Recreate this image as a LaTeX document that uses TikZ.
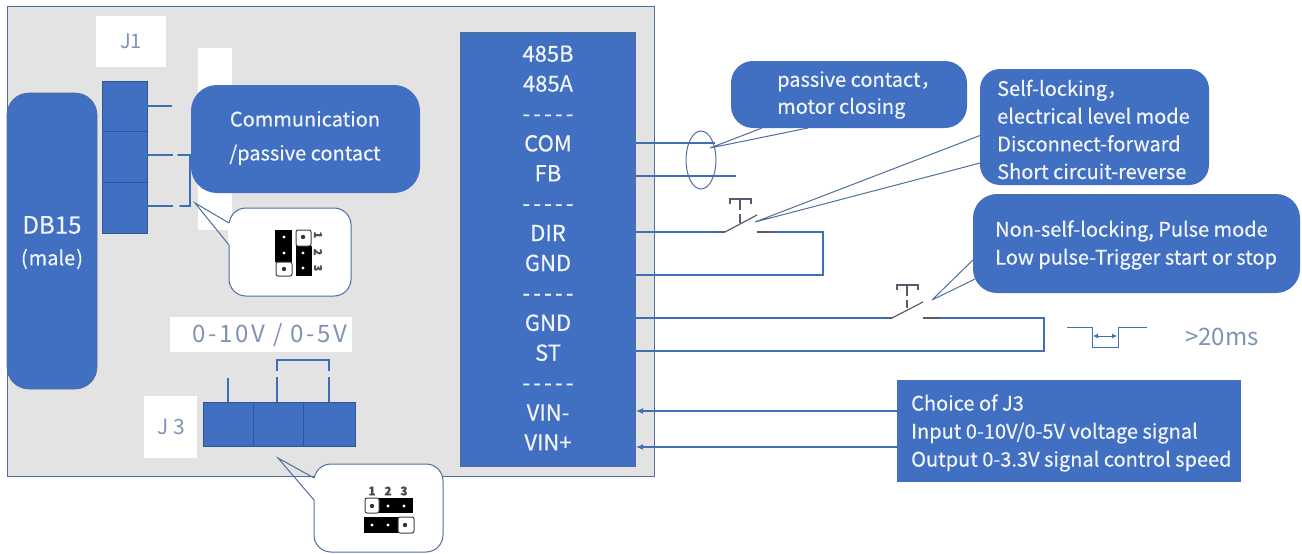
\documentclass[tikz,border=0pt]{standalone}
\usepackage{fontspec}
\setmainfont{Noto Sans CJK SC}[RawFeature={embolden=0.35}]
\newfontfamily\lightf{Noto Sans CJK SC}
\usetikzlibrary{arrows.meta,shapes.geometric}
\definecolor{bluef}{HTML}{4170C2}
\definecolor{wirec}{HTML}{3F6DB8}
\definecolor{edgec}{HTML}{4F6E9E}
\definecolor{divc}{HTML}{2F5597}
\definecolor{boardc}{HTML}{E3E3E3}
\definecolor{labelc}{HTML}{7F93B5}
\definecolor{swc}{HTML}{5A5A6A}
\definecolor{txtc}{HTML}{F2F6FC}
\tikzset{
  blue box/.style={fill=bluef,draw=divc,line width=0.9pt},
  white box/.style={fill=white,draw=none},
  wire/.style={draw=wirec,line width=1.6pt},
  lead/.style={draw=edgec,line width=1pt},
  label txt/.style={text=txtc,align=left,anchor=west,inner sep=0pt},
  swgrey/.style={draw=swc,line width=1.2pt},
  sig arrow/.style={draw=wirec,line width=1.1pt,-{Latex[length=7pt,width=6pt]}},
}
% \bx{name}{options}{x1}{y1}{x2}{y2}
\newcommand{\bx}[6]{\node[anchor=north west,inner sep=0pt,outer sep=0pt,#2,minimum width=(#5-#3)*1pt,minimum height=(#6-#4)*1pt] (#1) at (#3,#4) {};}
\newcommand{\dsh}{{-}\kern3.2pt{-}\kern3.2pt{-}\kern3.2pt{-}\kern3.2pt{-}}
\begin{document}
\begin{tikzpicture}[x=1pt,y=-1pt]
\useasboundingbox (0,0) rectangle (1302,554);
% board
\bx{board}{fill=boardc,draw=edgec,line width=0.9pt}{7}{6}{654}{476}
\bx{jonebg}{white box}{96}{16}{166}{67}
\bx{strip}{white box}{198}{48}{232}{230}
\bx{db}{fill=bluef,draw=edgec,line width=0.7pt,rounded corners=22pt}{7}{93}{97}{389}
\node[text=txtc,inner sep=0pt,font=\fontsize{24}{24}\selectfont] (dbt) at (52,225) {DB15};
\node[text=txtc,inner sep=0pt,font=\fontsize{20}{20}\selectfont] (dbm) at (52,259) {(\kern1pt male\kern1pt)};
\node[text=labelc,inner sep=0pt,font=\lightf\fontsize{20}{20}\selectfont] (jonet) at (131,41) {J1};
% J1
\bx{ja}{blue box}{102}{81}{147}{131}
\bx{jb}{blue box}{102}{131}{147}{182}
\bx{jc}{blue box}{102}{182}{147}{233}
\coordinate (a1) at (172,106);
\coordinate (b0) at (147,155);\coordinate (b1) at (173,155);\coordinate (b2) at (178,155);\coordinate (b3) at (190,155);
\coordinate (c0) at (147,206);\coordinate (c1) at (173,206);\coordinate (c2) at (180,206);\coordinate (c3) at (190,206);
\draw[wire] (147,106) -- (a1);
\draw[wire] (b0) -- (b1);
\draw[wire] (c0) -- (c1);
\draw[wire,line cap=round] (b2) -- (b3) -- (c3) -- (c2);
\bx{comm}{fill=bluef,draw=none,rounded corners=26pt}{191}{85}{420}{193}
\node[text=txtc,inner sep=0pt,align=center,font=\fontsize{20}{34}\selectfont] (commt) at (305,138) {Communication\\/passive contact};
% J1 callout
\bx{cone}{fill=white,draw=edgec,line width=1pt,rounded corners=17pt}{229}{208}{351}{296}
\coordinate (conep) at (195,203);\coordinate (conea) at (229,223);\coordinate (coneb) at (229,245);
\draw[white,line width=2pt] (conea) -- (coneb);
\draw[lead] (conea) -- (conep) -- (coneb);
% jumper J1
\fill[black] (275,230) rectangle (292,262);
\fill[black] (296,246) rectangle (312,276);
\draw[black!75,line width=1pt,rounded corners=2pt] (276,262) rectangle (292,276);
\draw[black!75,line width=1pt,rounded corners=2pt] (296,230) rectangle (311,246);
\foreach \p in {(284,237),(284,253),(303,253),(303,268)} \fill[white] \p circle (1.6);
\foreach \p in {(284,269),(303,237)} {\fill[black!80] \p circle (2.2);}
\node[rotate=-90,inner sep=0pt,font=\bfseries\fontsize{11}{11}\selectfont,text=black!70] (jn1) at (318,235) {1};
\node[rotate=-90,inner sep=0pt,font=\bfseries\fontsize{11}{11}\selectfont,text=black!70] (jn2) at (318,252) {2};
\node[rotate=-90,inner sep=0pt,font=\bfseries\fontsize{11}{11}\selectfont,text=black!70] (jn3) at (318,268) {3};
% 0-10V
\bx{vbg}{white box}{170}{317}{352}{352}
\node[text=labelc,inner sep=0pt,font=\lightf\addfontfeature{LetterSpace=11}\fontsize{24}{24}\selectfont] (vt) at (270,335) {0-10V / 0-5V};
\bx{jthbg}{white box}{144}{396}{197}{458}
\node[text=labelc,inner sep=0pt,font=\lightf\fontsize{21}{21}\selectfont] (jtht) at (171,427) {J 3};
\bx{ka}{blue box}{203}{402}{253}{446}
\bx{kb}{blue box}{253}{402}{303}{446}
\bx{kc}{blue box}{303}{402}{355}{446}
\coordinate (ka1) at (228,378);
\coordinate (kb0) at (277,402);\coordinate (kb1) at (277,377);\coordinate (kb2) at (277,371);\coordinate (kb3) at (277,360);
\coordinate (kc0) at (329,402);\coordinate (kc1) at (329,377);\coordinate (kc2) at (329,371);\coordinate (kc3) at (329,360);
\draw[wire] (228,402) -- (ka1);
\draw[wire] (kb0) -- (kb1);
\draw[wire] (kc0) -- (kc1);
\draw[wire] (kb2) -- (kb3) -- (kc3) -- (kc2);
% J3 callout
\bx{cth}{fill=white,draw=edgec,line width=1pt,rounded corners=17pt}{314}{464}{443}{552}
\coordinate (cthp) at (278,458);\coordinate (ctha) at (314,478);\coordinate (cthb) at (314,500);
\draw[white,line width=2pt] (ctha) -- (cthb);
\draw[lead] (ctha) -- (cthp) -- (cthb);
% jumper J3
\fill[black] (379,498) rectangle (413,513);
\fill[black] (364,517) rectangle (398,533);
\draw[black!75,line width=1pt,rounded corners=2pt] (365,498) rectangle (379,513);
\draw[black!75,line width=1pt,rounded corners=2pt] (398,517) rectangle (414,533);
\foreach \p in {(388,506),(404,506),(372,525),(388,525)} \fill[white] \p circle (1.6);
\foreach \p in {(372,506),(405,525)} {\fill[black!80] \p circle (2.2);}
\node[inner sep=0pt,font=\bfseries\fontsize{12}{12}\selectfont,text=black!70] (kn1) at (372,491) {1};
\node[inner sep=0pt,font=\bfseries\fontsize{12}{12}\selectfont,text=black!70] (kn2) at (388,491) {2};
\node[inner sep=0pt,font=\bfseries\fontsize{12}{12}\selectfont,text=black!70] (kn3) at (404,491) {3};
% terminal block
\bx{term}{fill=bluef,draw=edgec,line width=0.5pt}{460}{32}{635.5}{466}
\node[text=txtc,inner sep=0pt,align=center,font=\fontsize{22}{29.9}\selectfont] (termt) at (548,248) {485B\\485A\\\dsh\\COM\\FB\\\dsh\\DIR\\GND\\\dsh\\GND\\ST\\\dsh\\VIN-\\VIN+};
% COM/FB
\coordinate (com) at (636,143);\coordinate (come) at (715,143);
\coordinate (fb) at (636,176);\coordinate (fbe) at (736,176);
\draw[wire] (com) -- (come);
\draw[wire] (fb) -- (fbe);
\node[draw=edgec,line width=1pt,ellipse,minimum width=30pt,minimum height=58pt,inner sep=0pt] (ell) at (701,160) {};
\coordinate (ptip) at (710,148);
\draw[lead] (762,128) -- (ptip) -- (808,128);
\bx{pass}{fill=bluef,draw=none,rounded corners=22pt}{731}{61}{967}{128}
\node[label txt,font=\fontsize{20}{27}\selectfont] (passt) at (777,95) {passive contact，\\motor closing};
% switch 1
\coordinate (dirend) at (725,232);\coordinate (sone) at (757,215);
\coordinate (sonea) at (757,232);\coordinate (soneb) at (774,232);\coordinate (sonec) at (823,232);\coordinate (soned) at (823,275);\coordinate (gnda) at (636,275);
\draw[wire] (636,232) -- (dirend);
\draw[swgrey] (718,232) -- (dirend) -- (sone);
\draw[wire,line join=miter] (soneb) -- (sonec) -- (soned) -- (gnda);
\draw[swgrey] (sonea) -- (soneb);
\draw[swgrey] (730,204) -- (730,199) -- (751,199) -- (751,204);
\draw[swgrey] (740,199) -- (740,210) (740,214) -- (740,223);
\coordinate (stip) at (755,222);
\draw[lead] (stip) -- (984,134) (stip) -- (984,162);
\bx{self}{fill=bluef,draw=none,rounded corners=20pt}{980}{69}{1209}{185}
\node[label txt,font=\fontsize{20}{27.7}\selectfont] (selft) at (997,129.5) {Self-locking，\\electrical level mode\\Disconnect-forward\\Short circuit-reverse};
% switch 2
\coordinate (gendb) at (892,318);\coordinate (stwo) at (923,302);
\coordinate (stwoa) at (923,318);\coordinate (stwob) at (940,318);\coordinate (stwoc) at (1044,318);\coordinate (stwod) at (1044,351);\coordinate (stl) at (636,351);
\draw[wire] (636,318) -- (gendb);
\draw[swgrey] (885,318) -- (gendb) -- (stwo);
\draw[wire] (stwob) -- (stwoc) -- (stwod) -- (stl);
\draw[swgrey] (stwoa) -- (stwob);
\draw[swgrey] (897,290) -- (897,285) -- (918,285) -- (918,290);
\draw[swgrey] (907,285) -- (907,296) (907,300) -- (907,308);
\coordinate (ttip) at (932,300);
\draw[lead] (ttip) -- (975,258) (ttip) -- (975,279);
\bx{nonself}{fill=bluef,draw=none,rounded corners=24pt}{973}{194}{1300}{293}
\node[label txt,font=\fontsize{20}{28}\selectfont] (nont) at (995,245) {Non-self-locking, Pulse mode\\Low pulse-Trigger start or stop};
% pulse
\draw[draw=wirec,line width=1pt] (1067,327) coordinate (pa) -- (1092,327) coordinate (pb) -- (1092,347) coordinate (pc) -- (1118,347) coordinate (pd) -- (1118,327) coordinate (pe) -- (1147,327) coordinate (pf);
\draw[draw=wirec,line width=1pt,{Latex[length=5pt,width=5pt]}-{Latex[length=5pt,width=5pt]}] (1093,336) -- (1117,336);
\node[text=labelc,inner sep=0pt,font=\lightf\fontsize{24}{24}\selectfont] (ms) at (1222,337) {>20ms};
% J3 box
\bx{choice}{fill=bluef,draw=none}{897}{380}{1241}{482}
\node[label txt,font=\fontsize{20}{28}\selectfont] (cht) at (911,433) {Choice of J3\\Input 0-10V/0-5V voltage signal\\Output 0-3.3V signal control speed};
\coordinate (cha) at (897,411);\coordinate (chb) at (897,447);
\coordinate (vinm) at (636,411);\coordinate (vinp) at (636,447);
\draw[sig arrow] (cha) -- (vinm);
\draw[sig arrow] (chb) -- (vinp);
\end{tikzpicture}
\end{document}
